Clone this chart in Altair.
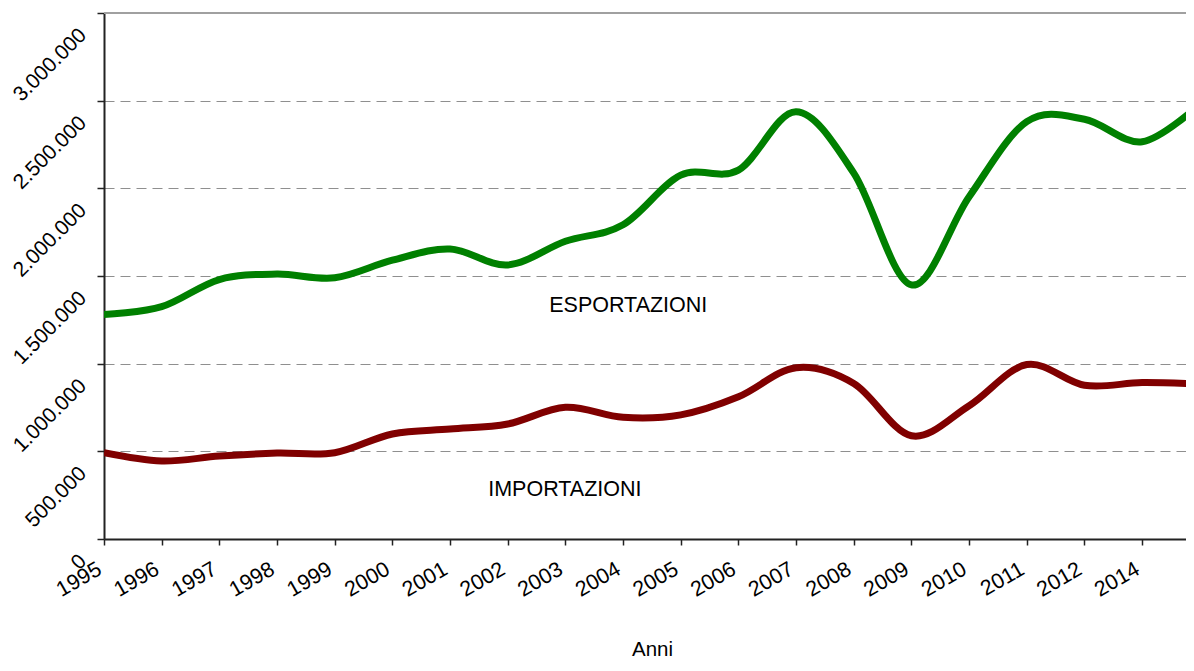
import altair as alt
import pandas as pd

# ---- data ----
years = ["1995", "1996", "1997", "1998", "1999", "2000", "2001", "2002", "2003",
         "2004", "2005", "2006", "2007", "2008", "2009", "2010", "2011", "2012",
         "2014", "2015"]
export_vals = [1280000, 1325000, 1480000, 1511000, 1490000, 1590000, 1654000,
               1563000, 1698000, 1792000, 2075000, 2104000, 2437000, 2087000,
               1449000, 1952000, 2380000, 2394000, 2266000, 2480000]
import_vals = [492000, 445000, 473000, 490000, 492000, 599000, 627000, 656000,
               751000, 694000, 708000, 811000, 977000, 887000, 589000, 760000,
               995000, 877000, 892000, 883000]
series_names = ["ESPORTAZIONI", "IMPORTAZIONI"]
series_colors = ["#008000", "#800000"]
label_idx = [9.09, 7.99]
label_val = [1330000, 280000]
y_ticks = [0, 500000, 1000000, 1500000, 2000000, 2500000, 3000000]
y_tick_labels = ["0", "500.000", "1.000.000", "1.500.000", "2.000.000",
                 "2.500.000", "3.000.000"]
x_tick_labels = years[:19]
axis_title_x = "Anni"

rows = []
for i, yr in enumerate(years):
    rows.append({"idx": i, "anno": yr, "valore": export_vals[i], "serie": series_names[0]})
    rows.append({"idx": i, "anno": yr, "valore": import_vals[i], "serie": series_names[1]})
df = pd.DataFrame(rows)
labels_df = pd.DataFrame({"idx": label_idx, "valore": label_val, "serie": series_names})
top_df = pd.DataFrame({"valore": [y_ticks[-1]]})

FONT = "Liberation Sans"
x_expr = "[" + ",".join("'%s'" % s for s in x_tick_labels) + "][datum.value]"
y_expr = "[" + ",".join("'%s'" % s for s in y_tick_labels) + "][round(datum.value/500000)]"

x_scale = alt.Scale(domain=[0, 18.76], nice=False, zero=False)
y_scale = alt.Scale(domain=[0, 3000000], nice=False)

x_enc = alt.X("idx:Q", scale=x_scale, axis=alt.Axis(
    values=list(range(19)), labelExpr=x_expr, labelAngle=-30, labelAlign="right",
    labelBaseline="top", labelPadding=13, labelOffset=-10, labelFontSize=21.5,
    labelFont=FONT, labelColor="black", tickSize=6, tickColor="#222222",
    tickWidth=1.5, domainColor="#222222", domainWidth=2, grid=False,
    title=axis_title_x, titleFont=FONT, titleFontSize=20.5, titleFontWeight="normal",
    titleColor="black", titleBaseline="alphabetic", titleY=116, titleX=548))
y_enc = alt.Y("valore:Q", scale=y_scale, axis=alt.Axis(
    values=y_ticks, labelExpr=y_expr, labelAngle=-45, labelAlign="right",
    labelBaseline="top", labelPadding=22, labelOffset=11, labelFontSize=21,
    labelFont=FONT, labelColor="black", tickSize=7, tickColor="#222222",
    tickWidth=1.5, domainColor="#222222", domainWidth=2, grid=True,
    gridDash=[10, 6], gridColor="#8f8f8f", gridWidth=1, title=None))

color = alt.Color("serie:N", scale=alt.Scale(domain=series_names, range=series_colors),
                  legend=None)

lines = alt.Chart(df).mark_line(interpolate="cardinal", tension=0, strokeWidth=7,
                                clip=True).encode(
    x=x_enc, y=y_enc, color=color, detail="serie:N")

top_rule = alt.Chart(top_df).mark_rule(color="#a0a0a0", strokeWidth=2).encode(
    y=alt.Y("valore:Q", scale=y_scale))

texts = alt.Chart(labels_df).mark_text(font=FONT, fontSize=21.5, color="black",
                                       align="center", baseline="middle").encode(
    x=alt.X("idx:Q", scale=x_scale), y=alt.Y("valore:Q", scale=y_scale),
    text="serie:N")

chart = alt.layer(top_rule, lines, texts).properties(
    width=1082, height=526,
    autosize=alt.AutoSizeParams(type="none"),
    padding={"left": 96, "top": 5, "right": 0, "bottom": 122},
).configure_view(stroke=None)

chart.save("out.html", embed_options={"renderer": "svg", "actions": False})
